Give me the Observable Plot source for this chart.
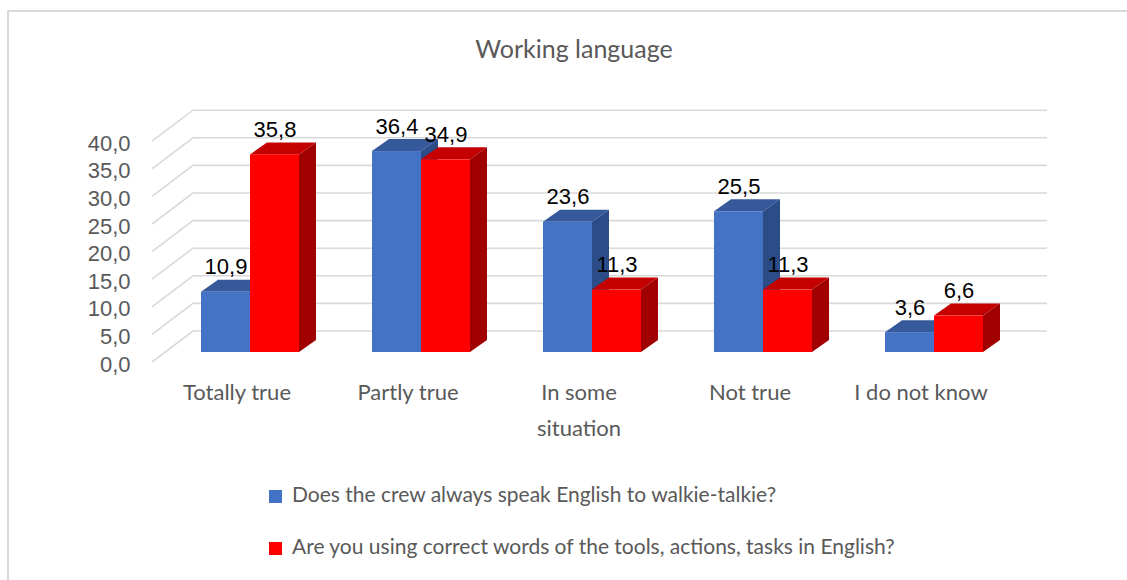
<!DOCTYPE html>
<html>
<head>
<meta charset="utf-8">
<script src="https://cdn.jsdelivr.net/npm/d3@7"></script>
<script src="https://cdn.jsdelivr.net/npm/@observablehq/plot@0.6"></script>
<style>
  html, body { margin: 0; padding: 0; background: #fff; }
  #wrap { position: relative; width: 1127px; height: 580px; overflow: hidden; background: #fff; }
  #frame { position: absolute; left: 7px; top: 10px; width: 1300px; height: 800px;
           border-left: 2px solid #d9d9d9; border-top: 2px solid #d9d9d9; }
  #title { position: absolute; left: 0; top: 33px; width: 1148px; text-align: center;
           font-family: Lato, "Open Sans", sans-serif; font-size: 25px; color: #595959; }
  #chart { position: absolute; left: 0; top: 90px; }
  .leg { position: absolute; left: 269px; font-family: Lato, "Open Sans", sans-serif;
         font-size: 21px; color: #595959; white-space: nowrap; }
  .leg .sw { position: absolute; left: 0; width: 13px; height: 13px; }
  .leg .tx { position: absolute; left: 23px; line-height: 24px; }
</style>
</head>
<body>
<div id="wrap">
  <div id="frame"></div>
  <div id="title"></div>
  <div id="chart"></div>
  <div id="legend"></div>
</div>
<script>
// ---- data ----
const chartTitle = "Working language";
const categories = ["Totally true", "Partly true", "In some\nsituation", "Not true", "I do not know"];
const seriesNames = [
  "Does the crew always speak English to walkie-talkie?",
  "Are you using correct words of the tools, actions, tasks in English?"
];
const crewEnglish = [10.9, 36.4, 23.6, 25.5, 3.6];
const correctWords = [35.8, 34.9, 11.3, 11.3, 6.6];
const yTicks = [0, 5, 10, 15, 20, 25, 30, 35, 40];

// ---- styles ----
const faces = [
  {front: "#4472C4", top: "#36599C", side: "#2C4C88"},
  {front: "#FF0000", top: "#C40000", side: "#A00000"}
];
const seriesValues = [crewEnglish, correctWords];
const rows = [];
categories.forEach((c, i) => seriesValues.forEach((vals, s) => rows.push({cat: c, s, value: vals[i]})));

const fmt = d => d.toFixed(1).replace(".", ",");
const numFont = "'Liberation Sans', Arial, sans-serif";
const twFont = "Lato, 'Open Sans', sans-serif";

const halfW = 49, depthX = 17, depthY = 12;        // bar size and 3D depth (px)
const wallDX = 41, wallFront = 10, wallBack = -21;  // gridline perspective offsets
const wallRight = 1047;

function gridMark(index, scales) {
  const g = d3.create("svg:g");
  for (const v of yTicks) {
    const y = scales.y(v);
    const x0 = 152;
    g.append("path")
      .attr("d", `M${x0},${y + wallFront}L${x0 + wallDX},${y + wallBack}L${wallRight},${y + wallBack}`)
      .attr("fill", "none").attr("stroke", "#d9d9d9").attr("stroke-width", 1.6);
  }
  return g.node();
}

function barsMark(index, scales) {
  const g = d3.create("svg:g");
  const yb = scales.y(0);
  for (const r of rows) {
    const cx = scales.x(r.cat);
    const x0 = r.s === 0 ? cx - halfW : cx;
    const x1 = x0 + halfW;
    const yt = scales.y(r.value);
    const f = faces[r.s];
    g.append("polygon")
      .attr("points", [[x0, yt], [x0 + depthX, yt - depthY], [x1 + depthX, yt - depthY], [x1, yt]].join(" "))
      .attr("fill", f.top);
    g.append("polygon")
      .attr("points", [[x1, yt], [x1 + depthX, yt - depthY], [x1 + depthX, yb - depthY], [x1, yb]].join(" "))
      .attr("fill", f.side);
    g.append("rect")
      .attr("x", x0).attr("y", yt).attr("width", halfW).attr("height", yb - yt)
      .attr("fill", f.front);
  }
  return g.node();
}

const labelOpts = {
  x: "cat", y: "value", dy: -25,
  text: d => fmt(d.value), fontSize: 22, fill: "#000", fontFamily: numFont
};

const plot = Plot.plot({
  width: 1127,
  height: 370,
  marginLeft: 130,
  x: {type: "point", domain: categories, range: [250, 934], padding: 0, axis: null},
  y: {type: "linear", domain: [0, 40], range: [262, 41.2], axis: null},
  style: {background: "transparent"},
  marks: [
    gridMark,
    Plot.text(yTicks, {
      y: d => d, frameAnchor: "left", textAnchor: "end", dy: 12,
      text: fmt, fontSize: 22, fill: "#595959", fontFamily: numFont
    }),
    barsMark,
    Plot.text(rows.filter(d => d.s === 0), {...labelOpts, dx: -halfW / 2}),
    Plot.text(rows.filter(d => d.s === 1), {...labelOpts, dx: halfW / 2}),
    Plot.text(categories, {
      x: d => d, y: () => 0, dx: -13.5, dy: 22, lineAnchor: "top", lineHeight: 1.64,
      text: d => d, fontSize: 22, fill: "#595959", fontFamily: twFont
    })
  ]
});
document.getElementById("chart").appendChild(plot);
document.getElementById("title").textContent = chartTitle;

const legend = document.getElementById("legend");
const legTops = [482, 534];
seriesNames.forEach((name, i) => {
  const item = document.createElement("div");
  item.className = "leg";
  item.style.top = legTops[i] + "px";
  const sw = document.createElement("div");
  sw.className = "sw"; sw.style.background = faces[i].front; sw.style.top = "8px";
  const tx = document.createElement("div");
  tx.className = "tx"; tx.textContent = name;
  item.appendChild(sw); item.appendChild(tx);
  legend.appendChild(item);
});
</script>
</body>
</html>
